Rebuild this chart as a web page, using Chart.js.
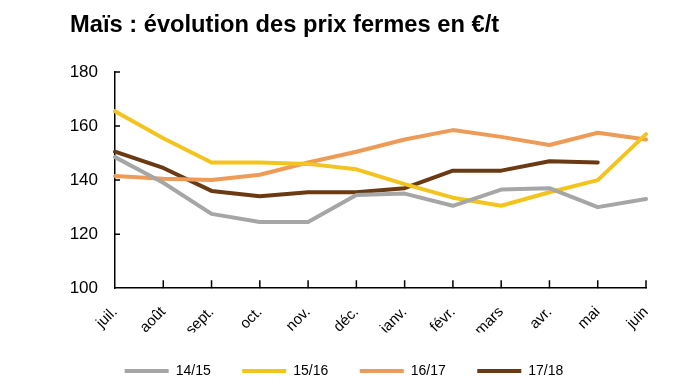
<!DOCTYPE html>
<html>
<head>
<meta charset="utf-8">
<script src="https://cdn.jsdelivr.net/npm/chart.js@4.4.1/dist/chart.umd.min.js"></script>
<style>
  html, body { margin: 0; padding: 0; background: #fff; }
  #wrap { position: relative; width: 683px; height: 388px; }
  #title { position: absolute; left: 70px; top: 12px; margin: 0;
    font: bold 23.7px/24px 'Liberation Sans', Arial, sans-serif; color: #000; white-space: nowrap; }
  canvas { position: absolute; left: 0; top: 0; }
</style>
</head>
<body>
<div id="wrap">
  <canvas id="myChart" width="683" height="388"></canvas>
  <div id="title">Maïs : évolution des prix fermes en €/t</div>
</div>
<script>
var months = ["juil.","août","sept.","oct.","nov.","déc.","janv.","févr.","mars","avr.","mai","juin"];
var seasons = ["14/15","15/16","16/17","17/18"];
var p1415 = [148.5, 139, 127.5, 124.5, 124.5, 134.5, 135, 130.5, 136.5, 137, 130, 133];
var p1516 = [165.5, 155.5, 146.5, 146.5, 146, 144, 138.5, 133.5, 130.5, 135.5, 140, 157];
var p1617 = [141.5, 140.5, 140, 142, 146.5, 150.5, 155, 158.5, 156, 153, 157.5, 155];
var p1718 = [150.5, 144.5, 136, 134, 135.5, 135.5, 137, 143.5, 143.5, 147, 146.5, null];
var colors = ["#A6A6A6", "#F4C41E", "#EE9B57", "#6B3A12"];

var fam = "'Liberation Sans', Arial, sans-serif";

// small tick marks pointing into the plot from both axes
var innerTicks = {
  id: "innerTicks",
  afterDraw: function(chart){
    var ctx = chart.ctx;
    var sx = chart.scales.x, sy = chart.scales.y;
    var a = chart.chartArea;
    ctx.save();
    ctx.strokeStyle = "#000";
    ctx.lineWidth = 1.5;
    ctx.beginPath();
    for(var i = 1;i < months.length;i++){
      var px = sx.getPixelForTick(i);
      ctx.moveTo(px, a.bottom);
      ctx.lineTo(px, a.bottom - 8);
    }
    for(var j = 1;j < sy.ticks.length;j++){
      var py = sy.getPixelForTick(j);
      ctx.moveTo(a.left, py);
      ctx.lineTo(a.left + 5, py);
    }
    ctx.stroke();
    ctx.restore();
  }
};

function ds(i, vals){
  return {
    label: seasons[i],
    data: vals,
    borderColor: colors[i],
    backgroundColor: colors[i],
    borderWidth: 4,
    pointRadius: 0,
    tension: 0,
    borderCapStyle: "round",
    borderJoinStyle: "round",
    spanGaps: false
  };
}

var ctx = document.getElementById("myChart").getContext("2d");
var chart = new Chart(ctx, {
  type: "line",
  data: {
    labels: months,
    datasets: [ds(0, p1415), ds(1, p1516), ds(2, p1617), ds(3, p1718)]
  },
  options: {
    responsive: false,
    animation: false,
    layout: { padding: { left: 42, right: 37, top: 72, bottom: 0 } },
    plugins: {
      tooltip: { enabled: false },
      title: { display: false },
      legend: {
        position: "bottom",
        labels: {
          usePointStyle: true,
          pointStyle: "line",
          pointStyleWidth: 44,
          color: "#000",
          font: { family: fam, size: 14 },
          padding: 31.5
        }
      }
    },
    scales: {
      x: {
        offset: false,
        grid: { drawOnChartArea: false, drawTicks: false },
        border: { display: true, color: "#000", width: 1.5 },
        ticks: {
          color: "#000",
          font: { family: fam, size: 15 },
          minRotation: 45,
          maxRotation: 45,
          padding: 15
        },
        afterFit: function(scale){ scale.height -= 22; }
      },
      y: {
        min: 100,
        max: 180,
        grid: { drawOnChartArea: false, drawTicks: false },
        border: { display: true, color: "#000", width: 1.5 },
        ticks: {
          stepSize: 20,
          color: "#000",
          font: { family: fam, size: 17 },
          padding: 17
        },
        afterFit: function(scale){ scale.width = 73; }
      }
    }
  },
  plugins: [innerTicks]
});
</script>
</body>
</html>
